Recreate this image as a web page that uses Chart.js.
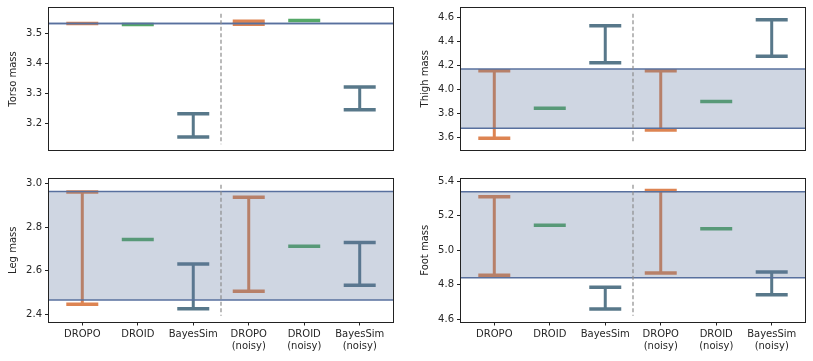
<!DOCTYPE html>
<html>
<head>
<meta charset="utf-8">
<script src="https://cdn.jsdelivr.net/npm/chart.js@4.4.1/dist/chart.umd.min.js"></script>
<style>
  body { margin: 0; background: #fff; width: 813px; height: 361px; overflow: hidden; position: relative; }
  canvas { position: absolute; }
</style>
</head>
<body>
<canvas id="torso" width="400" height="160" style="left:0;top:0;width:400px;height:160px"></canvas>
<canvas id="thigh" width="400" height="160" style="left:412px;top:0;width:400px;height:160px"></canvas>
<canvas id="leg" width="400" height="191" style="left:0;top:170px;width:400px;height:191px"></canvas>
<canvas id="foot" width="400" height="191" style="left:412px;top:170px;width:400px;height:191px"></canvas>
<script>
const categories = ["DROPO", "DROID", "BayesSim", "DROPO (noisy)", "DROID (noisy)", "BayesSim (noisy)"];

const torsoLow = [3.534, 3.531, 3.155, 3.532, 3.544, 3.246];
const torsoHigh = [3.534, 3.531, 3.233, 3.542, 3.544, 3.322];
const torsoTrue = [3.534, 3.534];
const torsoTicks = [3.2, 3.3, 3.4, 3.5];

const thighLow = [3.597, 3.844, 4.222, 3.664, 3.900, 4.275];
const thighHigh = [4.155, 3.844, 4.527, 4.155, 3.900, 4.578];
const thighTrue = [3.680, 4.169];
const thighTicks = [3.6, 3.8, 4.0, 4.2, 4.4, 4.6];

const legLow = [2.447, 2.743, 2.426, 2.506, 2.712, 2.534];
const legHigh = [2.961, 2.743, 2.631, 2.937, 2.712, 2.730];
const legTrue = [2.466, 2.963];
const legTicks = [2.4, 2.6, 2.8, 3.0];

const footLow = [4.856, 5.145, 4.660, 4.868, 5.124, 4.742];
const footHigh = [5.310, 5.145, 4.786, 5.345, 5.124, 4.874];
const footTrue = [4.841, 5.338];
const footTicks = [4.6, 4.8, 5.0, 5.2, 5.4];

const methodColors = ["#dd8452", "#55a868", "#58788a"];
const FONT = "'DejaVu Sans', sans-serif";
const TEXT = "#262626";

// translucent band and true-value lines go over the marks, like the original
const bandPlugin = {
    id: "band",
    afterDatasetsDraw(chart) {
        const { ctx, chartArea: a, scales } = chart;
        const band = chart.options.plugins.band.range;
        const y1 = scales.y.getPixelForValue(band[1]);
        const y0 = scales.y.getPixelForValue(band[0]);
        ctx.save();
        ctx.fillStyle = "rgba(95,118,158,0.3)";
        ctx.fillRect(a.left, y1, a.right - a.left, y0 - y1);
        ctx.strokeStyle = "#58709e";
        ctx.lineWidth = 1.5;
        band.forEach((v) => {
            const y = scales.y.getPixelForValue(v);
            ctx.beginPath();
            ctx.moveTo(a.left, y);
            ctx.lineTo(a.right, y);
            ctx.stroke();
        });
        // dashed split between clean and noisy runs
        const sx = scales.x.getPixelForValue(categories.length / 2 - 0.5);
        const h = a.bottom - a.top;
        ctx.strokeStyle = "#8c8c8c";
        ctx.lineWidth = 1.2;
        ctx.setLineDash([4, 2.5]);
        ctx.beginPath();
        ctx.moveTo(sx, a.top + h * 0.04);
        ctx.lineTo(sx, a.bottom - h * 0.04);
        ctx.stroke();
        ctx.setLineDash([]);
        ctx.strokeStyle = "#222";
        ctx.lineWidth = 1;
        ctx.strokeRect(Math.round(a.left) - 0.5, Math.round(a.top) - 0.5, Math.round(a.right - a.left) + 1, Math.round(a.bottom - a.top) + 1);
        ctx.restore();
    },
};

function buildDatasets(low, high) {
    const sets = [];
    methodColors.forEach((color, m) => {
        const stems = [];
        const caps = [];
        low.forEach((lo, i) => {
            if (i % 3 !== m) return;
            const hi = high[i];
            stems.push({ x: i, y: lo }, { x: i, y: hi }, { x: i, y: null });
            caps.push({ x: i, y: lo });
            if (hi !== lo) caps.push({ x: i, y: hi });
        });
        sets.push({
            data: stems,
            showLine: true,
            spanGaps: false,
            borderColor: color,
            borderWidth: 3,
            pointRadius: 0,
        });
        sets.push({
            data: caps,
            showLine: false,
            pointStyle: "line",
            pointRadius: 16,
            pointBorderWidth: 3.5,
            pointBorderColor: color,
            pointBackgroundColor: color,
        });
    });
    return sets;
}

function makePanel(id, label, low, high, truth, ticks, yMin, yMax, showX, area) {
    const ctx = document.getElementById(id).getContext("2d");
    return new Chart(ctx, {
        type: "scatter",
        data: { datasets: buildDatasets(low, high) },
        options: {
            responsive: false,
            animation: false,
            devicePixelRatio: 1,
            layout: {
                autoPadding: false,
                padding: { left: 0, right: 7, top: area.top, bottom: showX ? 0 : 160 - area.bottom },
            },
            plugins: {
                legend: { display: false },
                tooltip: { enabled: false },
                band: { range: truth },
            },
            scales: {
                x: {
                    type: "linear",
                    display: showX,
                    min: -0.6,
                    max: categories.length - 0.4,
                    afterBuildTicks: (s) => { s.ticks = categories.map((c, i) => ({ value: i })); },
                    afterFit: (s) => {
                        s.height = showX ? 39.5 : 0;
                        s.paddingLeft = 0;
                        s.paddingRight = 0;
                    },
                    grid: { drawOnChartArea: false, drawTicks: true, tickLength: 4, tickColor: "#222", tickWidth: 1 },
                    border: { display: false },
                    ticks: {
                        padding: 3,
                        maxRotation: 0,
                        autoSkip: false,
                        color: TEXT,
                        font: { family: FONT, size: 10 },
                        callback: (v) => {
                            const c = categories[v];
                            return c.includes(" (") ? c.split(" ") : c;
                        },
                    },
                },
                y: {
                    min: yMin,
                    max: yMax,
                    afterBuildTicks: (s) => { s.ticks = ticks.map((v) => ({ value: v })); },
                    afterFit: (s) => {
                        s.width = 49;
                        s.paddingTop = 0;
                        s.paddingBottom = 0;
                    },
                    grid: { drawOnChartArea: false, drawTicks: true, tickLength: 4, tickColor: "#222", tickWidth: 1 },
                    border: { display: false },
                    ticks: {
                        padding: 3,
                        color: TEXT,
                        font: { family: FONT, size: 10 },
                        callback: (v) => v.toFixed(1),
                    },
                    title: {
                        display: true,
                        text: label,
                        color: TEXT,
                        font: { family: FONT, size: 10 },
                        padding: { top: 7, bottom: 0 },
                    },
                },
            },
        },
        plugins: [bandPlugin],
    });
}

makePanel("torso", "Torso mass", torsoLow, torsoHigh, torsoTrue, torsoTicks, 3.112, 3.586, false, { top: 8, bottom: 150 });
makePanel("thigh", "Thigh mass", thighLow, thighHigh, thighTrue, thighTicks, 3.503, 4.675, false, { top: 8, bottom: 149.5 });
makePanel("leg", "Leg mass", legLow, legHigh, legTrue, legTicks, 2.368, 3.02, true, { top: 9 });
makePanel("foot", "Foot mass", footLow, footHigh, footTrue, footTicks, 4.588, 5.412, true, { top: 9 });
</script>
</body>
</html>
